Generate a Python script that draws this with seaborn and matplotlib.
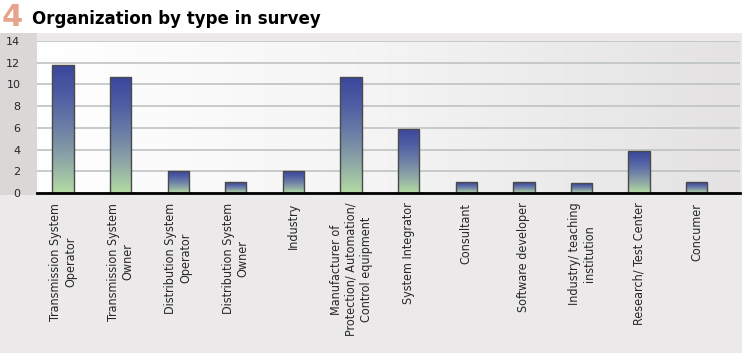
import numpy as np
import pandas as pd
import seaborn as sns
import matplotlib.pyplot as plt
from matplotlib.colors import LinearSegmentedColormap
from matplotlib.patches import Rectangle

categories = [
    'Transmission System\nOperator',
    'Transmission System\nOwner',
    'Distribution System\nOperator',
    'Distribution System\nOwner',
    'Industry',
    'Manufacturer of\nProtection/ Automation/\nControl equipment',
    'System Integrator',
    'Consultant',
    'Software developer',
    'Industry/ teaching\ninstitution',
    'Research/ Test Center',
    'Concumer',
]
counts = [11.8, 10.7, 2, 1, 2, 10.7, 5.9, 1, 1, 0.9, 3.85, 1]
yticks = [0, 2, 4, 6, 8, 10, 12, 14]

df = pd.DataFrame({'type': categories, 'count': counts})

sns.set_style('white')
plt.rcParams['font.family'] = ['DejaVu Sans']

W, H = 748, 360
fig = plt.figure(figsize=(W / 100, H / 100), dpi=100)
fig.patch.set_facecolor('white')

# grey chart panel behind everything
fig.patches.append(Rectangle((0, 7 / H), 742 / W, 320 / H, transform=fig.transFigure,
                             facecolor='#ebe9e9', edgecolor='none', zorder=-10))
fig.patches.append(Rectangle((0, 165 / H), 37 / W, 162 / H, transform=fig.transFigure,
                             facecolor='#dbd7d7', edgecolor='none', zorder=-9))

ax = fig.add_axes([37 / W, 167 / H, 703 / W, 152 / H])

sns.barplot(data=df, x='type', y='count', ax=ax, width=0.37,
            color='#5566aa', edgecolor='#4a4a4a', linewidth=1)

ax.set_xlim(-0.45, 11.75)
ax.set_ylim(0, 14)

# plot area background: white fading to light grey on the right
bg = np.linspace(0, 1, 256).reshape(1, -1)
ax.imshow(bg, extent=[0, 1, 0, 1], transform=ax.transAxes, aspect='auto',
          cmap=LinearSegmentedColormap.from_list('bg', ['#ffffff', '#f4f4f4', '#e4e2e2']),
          zorder=0)

# gradient fill for each bar (blue at top, green at bottom)
bar_cmap = LinearSegmentedColormap.from_list(
    'bar', ['#3a469c', '#4f5ea4', '#6d80a6', '#8fa8a6', '#b3dca3'])
grad = np.linspace(0, 1, 256).reshape(-1, 1)
for p in ax.patches:
    x, y = p.get_x(), p.get_y()
    w, h = p.get_width(), p.get_height()
    im = ax.imshow(grad, extent=[x, x + w, y, y + h], origin='upper', aspect='auto',
                   cmap=bar_cmap, zorder=2)
    im.set_clip_path(p)
    p.set_facecolor('none')
    p.set_zorder(3)

ax.set_xlim(-0.45, 11.75)
ax.set_ylim(0, 14)

ax.set_yticks(yticks)
ax.set_yticklabels([str(t) for t in yticks], fontsize=8)
ax.yaxis.grid(True, color='#bfc3c3', linewidth=1.2, zorder=1)
ax.set_axisbelow(True)
for s in ['top', 'right', 'left']:
    ax.spines[s].set_visible(False)
ax.spines['bottom'].set_color('black')
ax.spines['bottom'].set_linewidth(2)
ax.spines['bottom'].set_zorder(4)
ax.tick_params(axis='y', length=0, pad=12)
ax.tick_params(axis='x', length=0, pad=7)

ax.set_xticks(range(len(categories)))
ax.set_xticklabels(categories, rotation=90, va='top', ha='center',
                   multialignment='center', fontsize=9, fontstretch='condensed')
ax.set_xlabel('')
ax.set_ylabel('')

fig.text(2 / W, 1 - 17 / H, '4', fontsize=22, fontweight='bold', color='#e6a48c',
         va='center', ha='left')
fig.text(32 / W, 1 - 19 / H, 'Organization by type in survey', fontsize=12,
         fontweight='bold', color='black', va='center', ha='left')

fig.savefig('out.png', dpi=100)
